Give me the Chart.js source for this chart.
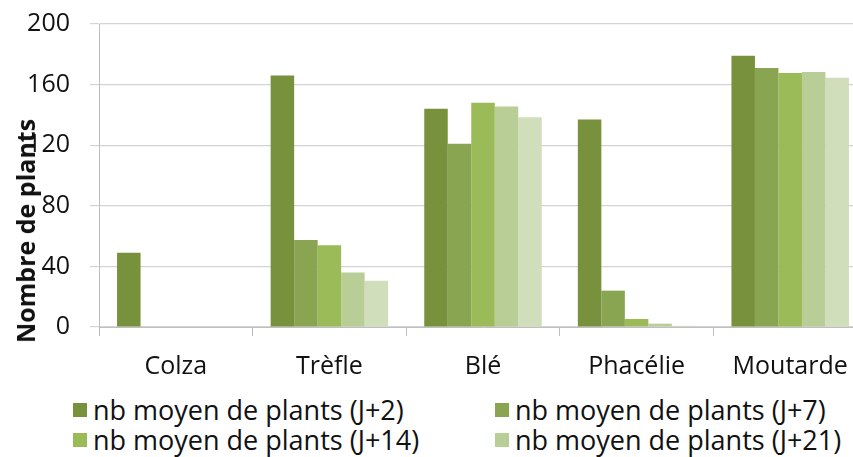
<!DOCTYPE html>
<html><head><meta charset="utf-8">
<script src="https://cdn.jsdelivr.net/npm/chart.js@4/dist/chart.umd.min.js"></script>
<style>
html,body{margin:0;padding:0;width:853px;height:457px;overflow:hidden;background:#fff;}
#wrap{position:absolute;left:0;top:0;width:870px;height:390px;}
#ytitle{position:absolute;left:25px;top:231px;transform:translate(-50%,-50%) rotate(-90deg);font:bold 25px "Open Sans";white-space:nowrap;color:#111;}
#legend{position:absolute;left:0;top:393px;width:853px;height:64px;overflow:hidden;font:27px "Open Sans";color:#111;}
.item{position:absolute;display:flex;align-items:center;white-space:nowrap;height:30px;line-height:30px}
.box{width:14px;height:14px;margin-right:6px;flex:none}
</style></head>
<body>
<div id="wrap"><canvas id="c"></canvas></div>
<div id="ytitle">Nombre de plants</div>
<div id="legend"></div>
<script>
const categories = ["Colza", "Trèfle", "Blé", "Phacélie", "Moutarde"];
const seriesLabels = ["nb moyen de plants (J+2)", "nb moyen de plants (J+7)", "nb moyen de plants (J+14)", "nb moyen de plants (J+21)", "nb moyen de plants (J+28)"];
const valuesJ2  = [49, 166, 144, 137, 179];
const valuesJ7  = [0, 57.5, 121, 24, 171];
const valuesJ14 = [0, 54, 148, 5.3, 167.7];
const valuesJ21 = [0, 36, 145.5, 2.2, 168.3];
const valuesJ28 = [0, 30.5, 138.5, 0.8, 164.6];
const yTicks = [0, 40, 80, 120, 160, 200];

const colors = ["#77913D", "#8AA552", "#9BBB59", "#B9CE96", "#D1DEBC"];
const allValues = [valuesJ2, valuesJ7, valuesJ14, valuesJ21, valuesJ28];

const datasets = allValues.map((v, i) => ({
  label: seriesLabels[i],
  data: v,
  backgroundColor: colors[i],
  borderWidth: 0,
  categoryPercentage: 0.765,
  barPercentage: 1.0
}));

new Chart(document.getElementById('c'), {
  type: 'bar',
  data: { labels: categories, datasets },
  options: {
    responsive: true,
    maintainAspectRatio: false,
    animation: false,
    layout: { padding: { top: 24, right: 3, bottom: 0, left: 0 } },
    plugins: { legend: { display: false }, tooltip: { enabled: false } },
    scales: {
      x: {
        grid: { display: true, drawOnChartArea: false, drawTicks: true, tickLength: 9, color: '#bfbfbf', offset: true },
        border: { display: true, color: '#bfbfbf' },
        ticks: { color: '#111', font: { family: 'Open Sans', size: 25 }, padding: 16 },
        afterFit(scale) { scale.height = 63; scale.paddingLeft = 0; scale.paddingRight = 0; }
      },
      y: {
        min: 0, max: 200,
        afterBuildTicks(scale) { scale.ticks = yTicks.map(v => ({ value: v })); },
        grid: { color: '#d4d4d4', tickLength: 9, lineWidth: 1.2 },
        border: { display: true, color: '#bfbfbf' },
        ticks: { color: '#111', font: { family: 'Open Sans', size: 25 }, padding: 20 },
        afterFit(scale) { scale.width = 99; scale.paddingTop = 0; scale.paddingBottom = 0; }
      }
    }
  }
});

const legend = document.getElementById('legend');
const colX = [73, 495];
seriesLabels.forEach((lab, i) => {
  const it = document.createElement('div');
  it.className = 'item';
  it.style.left = colX[i % 2] + 'px';
  it.style.top = (2 + Math.floor(i / 2) * 30) + 'px';
  const b = document.createElement('span');
  b.className = 'box';
  b.style.background = colors[i];
  const t = document.createElement('span');
  t.textContent = lab;
  it.appendChild(b); it.appendChild(t);
  legend.appendChild(it);
});
</script>
</body></html>
